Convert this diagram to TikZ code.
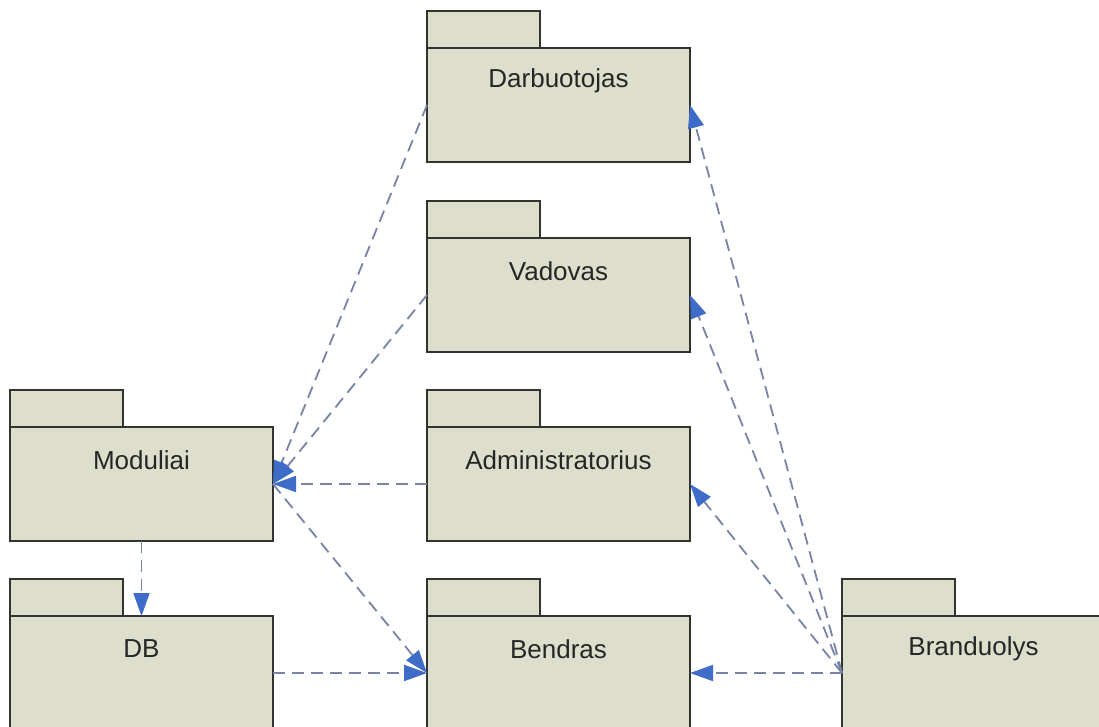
\documentclass[tikz,border=0pt]{standalone}
\usepackage{fontspec}
\setmainfont{Liberation Sans}
\usetikzlibrary{arrows.meta,calc}
\definecolor{pkgfill}{RGB}{221,223,204}
\definecolor{pkgline}{RGB}{50,52,48}
\definecolor{dep}{RGB}{120,132,165}
\definecolor{tipblue}{RGB}{62,108,200}
\newcommand\umlpkg[4]{%
  \node[pkgtab] (#1tab) at (#2,#3) {};
  \node[pkgbody] (#1) at (#2,{#3+37}) {};
  \node[pkglabel] (#1lbl) at ($(#1.north)+(0,33)$) {#4};
}
\begin{document}
\begin{tikzpicture}[x=1pt,y=-1pt,
  pkgbody/.style={draw=pkgline,line width=1.6pt,fill=pkgfill,minimum width=263pt,minimum height=114pt,anchor=north west,inner sep=0pt,outer sep=0pt},
  pkgtab/.style={draw=pkgline,line width=1.6pt,fill=pkgfill,minimum width=113pt,minimum height=37pt,anchor=north west,inner sep=0pt,outer sep=0pt},
  pkglabel/.style={font=\fontsize{26}{30}\selectfont,text=black!85},
  dependency/.style={draw=dep,line width=1.8pt,dash pattern=on 12pt off 7pt,-{Triangle[length=23pt,width=16pt,color=tipblue]}}]
\path[use as bounding box,clip] (0,0) rectangle (1099,726);
\fill[white] (0,0) rectangle (1099,726);
\umlpkg{darb}{427}{11}{Darbuotojas}
\umlpkg{vad}{427}{201}{Vadovas}
\umlpkg{adm}{427}{390}{Administratorius}
\umlpkg{bend}{427}{579}{Bendras}
\umlpkg{mod}{10}{390}{Moduliai}
\umlpkg{db}{10}{579}{DB}
\umlpkg{brand}{842}{579}{Branduolys}
\draw[dependency] (darb.west) -- (mod.east);
\draw[dependency] (vad.west) -- (mod.east);
\draw[dependency] (adm.west) -- (mod.east);
\draw[dependency] (mod.east) -- (bend.west);
\draw[dependency] (mod.south) -- (db.north);
\draw[dependency] (db.east) -- (bend.west);
\draw[dependency] (brand.west) -- (bend.east);
\draw[dependency] (brand.west) -- (adm.east);
\draw[dependency] (brand.west) -- (vad.east);
\draw[dependency] (brand.west) -- (darb.east);
\end{tikzpicture}
\end{document}
